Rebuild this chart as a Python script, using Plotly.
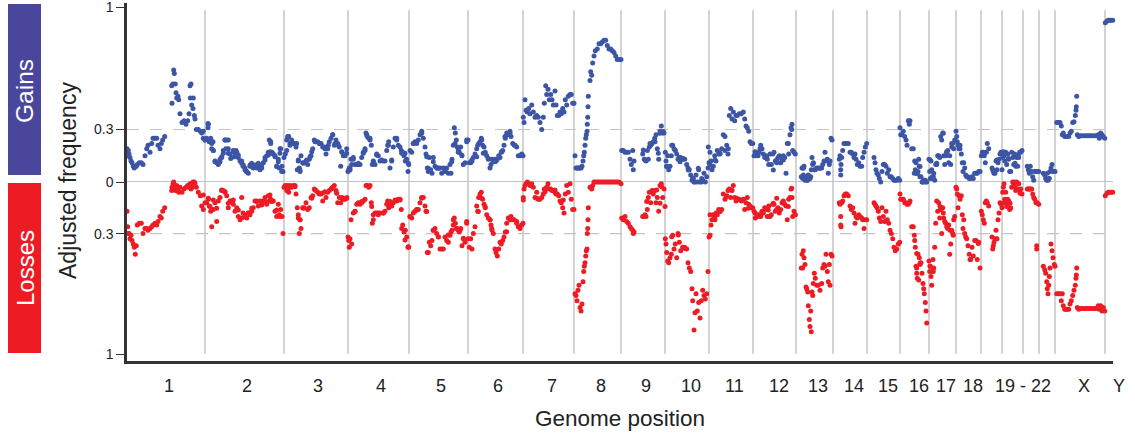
import plotly.graph_objects as go

chr1_pos=[0,.7,1.3,2,3,4,5,6.3,7.3,8.3,9.3,10.3,12.3,14.3,16,18,19.7,21,23,24.7,26,28,29.7,31,33,34.3,35.7,37.7,44.7,45,46,46.7,47.3,48.3,49,49.7,51,51.7,53,55,57,59,60.7,62,63,63.3,64,64.7,66,66.3,67.3,68,69.3,71.3,73.3,74.7,76.3,78]
chr1_gain=[.19,.15,.18,.16,.14,.12,.11,.09,.08,.09,.09,.10,.11,.11,.10,.15,.19,.21,.17,.22,.25,.25,.25,.21,.19,.22,.24,.26,.55,.45,.56,.64,.62,.56,.51,.48,.49,.47,.39,.34,.35,.33,.35,.39,.55,.48,.56,.44,.42,.48,.38,.36,.30,.30,.29,.28,.25,.24]
chr1_loss=[.17,.26,.30,.30,.33,.31,.34,.36,.38,.42,.37,.25,.24,.24,.30,.27,.27,.28,.27,.26,.25,.24,.25,.23,.20,.21,.17,.15,.05,.03,.01,0,.03,.05,.04,.02,.05,.06,.03,.06,.04,.03,.02,.03,.01,.02,.04,.03,0,.01,0,.01,.03,.06,.08,.14,.16,.12]

chr2_pos=[79.7,81.3,82.3,83.7,84.7,86.3,88,89.7,91.3,93,94.7,96.3,98,99.7,101.3,103,104.7,106.3,108,109.7,111.3,113,114.7,116,118,119.7,121.3,123,124.7,126.3,128,129.7,131.3,133,134.7,136.3,138,139.7,141.3,142.3,143.7,145,146.3,148,149.7,151.3,152.3,153.7,155,156]
chr2_gain=[.25,.33,.23,.25,.19,.18,.12,.11,.10,.13,.14,.18,.24,.24,.19,.16,.14,.18,.15,.17,.14,.12,.12,.09,.08,.06,.05,.09,.09,.08,.09,.08,.09,.07,.08,.11,.14,.15,.17,.24,.23,.17,.16,.15,.09,.13,.08,.19,.09,.06]
chr2_loss=[.12,.10,.14,.17,.26,.16,.12,.23,.11,.09,.05,.05,.06,.08,.15,.11,.11,.13,.17,.15,.20,.22,.09,.18,.20,.21,.18,.19,.17,.15,.11,.11,.14,.11,.13,.11,.09,.13,.08,.11,.10,.11,.11,.17,.20,.13,.19,.16,.20,.30]

chr3_pos=[157,158.3,159.7,160.7,161.7,163,164.7,166.3,168,169,170.3,171.3,172.3,173,174,175.7,177.3,179,180.7,182.3,184,185.7,187.3,189,190.7,192.3,194,195.7,197.3,199,200.7,202.3,204,205.7,207.3,209,210.7,212.3,213.7,215,216.3,218,219.7]
chr3_gain=[.14,.16,.18,.26,.26,.22,.22,.22,.22,.20,.07,.12,.08,.06,.15,.11,.11,.12,.10,.13,.15,.19,.24,.23,.23,.22,.22,.20,.20,.16,.19,.23,.25,.27,.21,.24,.22,.20,.09,.17,.15,.15,.19]
chr3_loss=[.03,.02,.05,.02,.06,.02,.03,.02,.02,.07,.15,.21,.30,.22,.27,.15,.15,.12,.16,.15,.09,.08,.04,.05,.06,.07,.07,.11,.06,.09,.06,.05,.04,.03,.02,.05,.12,.09,.12,.09,.10,.10,.09]

chr4_pos=[221,221.7,222.3,223,224,224.7,226.3,228,229.7,231.3,233,234.7,236.3,238,239,240.3,241.7,243,244.3,245.3,246.3,248,249.7,251.3,253,256.3,258,259.7,260.7,261.7,263,264.7,266.3,268,269.7,271.3,273,274.3,275.7,277,278.3,279.7,281,281.7]
chr4_gain=[.06,.07,.08,.08,.13,.10,.14,.10,.10,.10,.10,.14,.17,.19,.28,.26,.25,.25,.21,.10,.12,.10,.16,.15,.12,.12,.12,.18,.21,.23,.08,.12,.20,.25,.25,.21,.20,.18,.17,.15,.12,.13,.06,.10]
chr4_loss=[.32,.34,.38,.33,.22,.36,.18,.17,.13,.12,.13,.12,.11,.10,.02,.02,.03,.02,.12,.24,.19,.18,.18,.18,.18,.18,.17,.13,.11,.15,.13,.14,.12,.11,.11,.10,.10,.16,.25,.29,.28,.32,.38,.38]

chr5_pos=[283,284.7,286.3,288,289.7,291.3,293,294.7,296.3,298,299,300.3,301.3,302.3,303.7,305,306.3,308,309.7,311.3,313,314.7,316.3,318,319.7,321.3,323,324,325,326.3,327.3,328.3,329.3,330.3,331.3,332.3,333.7,335,336.3,338,339.7,341]
chr5_gain=[.18,.17,.22,.23,.22,.24,.27,.29,.25,.20,.16,.08,.06,.14,.07,.05,.14,.09,.08,.08,.08,.05,.08,.06,.08,.05,.10,.05,.13,.21,.31,.28,.24,.20,.17,.17,.20,.15,.10,.11,.24,.24]
chr5_loss=[.20,.21,.18,.17,.16,.16,.12,.09,.09,.14,.17,.41,.41,.35,.37,.34,.28,.27,.30,.32,.39,.39,.39,.32,.34,.35,.31,.29,.28,.25,.21,.24,.27,.27,.28,.29,.27,.37,.33,.35,.23,.33]

chr6_pos=[342.3,343.7,345,346.3,348,349.7,350.7,351.7,353,354.3,355.7,357,358.3,359.7,361.3,363,364,365,366.3,368,369,370.3,371.7,373,374.3,375.7,377,378.3,379.7,381.3,383,384,385.7,387.3,389.7,391.3,393,394.7,396]
chr6_gain=[.11,.11,.12,.14,.16,.19,.21,.22,.23,.25,.21,.20,.17,.15,.13,.08,.10,.13,.12,.13,.12,.13,.15,.14,.17,.18,.21,.25,.28,.27,.29,.26,.22,.21,.20,.15,.15,.16,.15]
chr6_loss=[.38,.33,.39,.30,.26,.14,.17,.09,.07,.06,.10,.13,.15,.19,.21,.22,.25,.28,.30,.39,.41,.43,.39,.35,.36,.34,.32,.29,.24,.21,.22,.20,.22,.22,.23,.26,.27,.25,.24]

chr7_pos=[396.3,397,398,399,400.3,401.7,403,404.7,406.3,408,409.7,411.3,413,414.7,416.3,417.3,418.7,419.7,421,422.3,423.7,425,426.3,428,429,430.3,431.7,433,434.3,435.7,437,438.3,439.7,441.3,443,444.3,445.7,447]
chr7_gain=[.37,.34,.47,.41,.40,.42,.39,.44,.40,.37,.38,.37,.34,.30,.37,.45,.55,.50,.53,.47,.50,.47,.44,.52,.44,.38,.38,.40,.39,.42,.40,.47,.44,.49,.50,.50,.45,.45]
chr7_loss=[.09,.04,.02,.01,0,.01,.02,.01,.03,.09,.06,.10,.10,.09,.07,.04,.04,.03,.01,.04,.04,.05,.05,.06,.07,.07,.08,.11,.12,.15,.18,.07,.02,.06,.01,.10,.16,.16]

chr8_pos=[448,449,450,451,452,453,454,455,456,456.7,457.3,458,458.7,459.3,460,460.3,460.7,461,461.3,463,463.7,464.7,465.7,467,468.3,470.3,472,473.7,475.3,477,478.7,480.3,482,483.7,485.3,487,488.7,490.3,492,494]
chr8_gain=[.15,.08,.08,.08,.08,.08,.08,.09,.12,.15,.17,.21,.25,.27,.29,.33,.37,.43,.49,.58,.63,.61,.68,.72,.75,.76,.79,.79,.80,.81,.81,.78,.76,.76,.75,.74,.72,.70,.70,.70]
chr8_loss=[.65,.66,.69,.63,.60,.73,.75,.71,.58,.52,.49,.47,.43,.40,.39,.30,.27,.22,.15,.03,.03,.04,.02,0,0,0,0,0,0,0,0,0,0,0,0,0,0,0,0,.01]

chr9_pos=[494.7,496.3,498,499.7,501.3,503,504.3,505.7,506.3,507,515.7,517.3,519,520.3,521.3,522.3,523.7,525,526.3,527.7,529,530.3,531.7,533,534.3,535.7,537]
chr9_gain=[.18,.18,.17,.17,.17,.13,.10,.18,.07,.12,.16,.13,.12,.18,.13,.20,.21,.22,.23,.25,.27,.19,.13,.29,.32,.28,.28]
chr9_loss=[.21,.22,.20,.23,.24,.26,.27,.28,.30,.29,.20,.20,.20,.16,.09,.06,.12,.05,.07,.05,.12,.09,.17,.02,.01,.09,.04]

chr10_pos=[538.3,539,539.7,540.7,541.7,543,544.3,545.7,547,548.3,549.7,551,552.3,553.7,555.7,557.7,559.7,561,562.3,563.7,565,565.7,567,568,569,570.3,571.7,573,574.3,575.7,577,578.3,579.7,581]
chr10_gain=[.17,.12,.09,.15,.07,.09,.15,.21,.19,.18,.16,.13,.14,.14,.13,.13,.10,.08,.07,.04,.01,.02,0,0,.04,0,.07,0,0,.01,.05,0,.03,.08]
chr10_loss=[.33,.36,.41,.46,.47,.44,.42,.31,.39,.36,.44,.30,.35,.40,.38,.38,.39,.47,.50,.52,.62,.69,.86,.76,.65,.75,.70,.79,.69,.63,.66,.68,.65,.52]

chr11_pos=[582,583,584,585,586.3,587.7,589,590.3,591.7,593,594.7,596.3,598,599.7,601,602.3,603.7,605,606.3,607.7,609,610.3,612.3,614.3,616.3,617.7,619,620.3,621.7,623,624.3,625.7]
chr11_gain=[.11,.17,.12,.07,.09,.15,.12,.18,.16,.16,.19,.27,.18,.21,.16,.38,.42,.36,.40,.35,.38,.38,.39,.39,.40,.36,.32,.31,.29,.23,.22,.22]
chr11_loss=[.32,.31,.25,.22,.19,.21,.18,.19,.16,.17,.16,.07,.10,.08,.05,.04,.09,.05,.02,.09,.11,.10,.10,.11,.10,.16,.12,.09,.13,.14,.15,.15]

chr12_pos=[627,628.3,629.7,631,632.3,633.7,635,636.3,637.7,639,640.3,641.7,643,644.3,645.7,647,648.3,649.7,651,652.3,653.7,655,656.3,657.7,659,660.3,661.7,663,664,665,665.7,667,668.3]
chr12_gain=[.15,.15,.17,.15,.17,.21,.19,.16,.14,.15,.13,.10,.16,.10,.16,.17,.12,.11,.14,.15,.11,.13,.15,.14,.05,.22,.16,.27,.31,.33,.18,.17,.16]
chr12_loss=[.17,.21,.19,.20,.19,.20,.17,.18,.15,.16,.20,.14,.20,.19,.13,.13,.17,.16,.15,.18,.16,.12,.11,.13,.14,.22,.10,.09,.04,.09,.20,.17,.19]

chr13_pos=[674.3,675,675.7,676.3,677,678,679,679.7,680.7,681.3,682.3,683,683.7,684.3,685,685.7,686.3,687.3,688.3,689.7,691.3,693,694.7,695.7,697,698,699,700.3,701.3,702.3,703,704,705]
chr13_gain=[.03,.08,.02,.04,.09,.01,.03,.01,.01,.04,.02,.02,.03,.07,.14,.10,.11,.07,.07,.08,.08,.08,.08,.10,.12,.17,.12,.13,.05,.10,.12,.25,.24]
chr13_loss=[.50,.42,.50,.40,.44,.48,.61,.62,.64,.72,.80,.84,.75,.87,.64,.66,.59,.53,.56,.60,.60,.63,.59,.50,.48,.49,.42,.52,.58,.48,.60,.42,.43]

chr14_pos=[712.3,713,713.7,713.7,714,714.7,715.7,717,718.3,719.7,721.3,723,724.3,725.7,727,728,729,730.3,731.7,733,734.7,735.7,737,738.3,739.7]
chr14_gain=[.13,.15,.04,.07,.10,.14,.18,.22,.22,.22,.22,.17,.17,.16,.14,.16,.13,.10,.11,.09,.09,.14,.17,.20,.22]
chr14_loss=[.12,.13,.20,.25,.26,.12,.11,.08,.07,.07,.08,.14,.16,.15,.18,.24,.20,.21,.19,.20,.21,.22,.27,.22,.22]

chr15_pos=[747,748,749,750,751.3,752.3,753.7,755,756.3,757.7,759,760.3,761.7,763,764.3,765.7,767,768.3,769.7,771.3,772.7]
chr15_gain=[.14,.11,.07,.05,.04,.02,0,.06,.10,.10,.09,.05,.07,.03,.03,.02,.01,.01,.01,.02,.01]
chr15_loss=[.12,.13,.14,.15,.17,.21,.23,.15,.20,.23,.17,.22,.24,.28,.30,.33,.38,.40,.39,.36,.35]

chr16_pos=[773,773.7,775,776.3,777.7,779,780,781.3,782.3,783,784.7,786.3,787.3,787.7,788.3,789,789.7,790.3,791,791.7,792.3,793,794,795,796,796.7,797.3,798.3,799,799.7]
chr16_gain=[.31,.27,.27,.29,.26,.24,.21,.35,.33,.35,.19,.19,.05,.12,.07,.11,.05,.05,.06,.13,.09,.03,.03,0,0,.01,.01,.01,0,0]
chr16_loss=[.07,.10,.10,.10,.12,.12,.13,.13,.12,.11,.26,.26,.31,.34,.38,.49,.50,.56,.42,.57,.44,.48,.47,.53,.59,.62,.65,.70,.75,.82]

chr17_pos=[802,802.7,803.3,804,804.7,805.3,806,806.7,807.7,808.7,809.7,810.7,811.7,812.7,813.7,814.7,815.7,816.7,817.7,818.7,819.7,820.7,821.7,822.7,823.7,824.7,825.7,826.7,827.7]
chr17_gain=[.13,.06,.02,.12,.07,.03,.02,.05,.01,.10,.10,.15,.15,.14,.26,.24,.28,.15,.10,.15,.17,.18,.11,.15,.10,.20,.22,.19,.24]
chr17_loss=[.46,.52,.49,.55,.60,.52,.45,.50,.38,.24,.11,.17,.12,.21,.16,.30,.15,.21,.23,.24,.26,.27,.25,.42,.36,.28,.30,.22,.20]

chr18_pos=[829,829.7,830.3,831,832,833,834.3,835.3,836,836.7,837.7,838.7,839.7,841,842.3,843.7,845,846.3,847.7,849,850.3,851.7,853]
chr18_gain=[.29,.26,.23,.21,.19,.21,.16,.11,.06,.11,.08,.04,.03,.03,.02,.02,.03,.02,.05,.05,.05,.06,.06]
chr18_loss=[.03,.04,.07,.15,.08,.10,.08,.19,.27,.22,.30,.32,.33,.37,.42,.45,.38,.43,.34,.34,.45,.35,.50]

chr19_pos=[854.3,855.3,856.3,857.3,858.3,859.3,860.3,861.7,865,865.7,866.3,867,868,869,870,871,872,873,874,875]
chr19_gain=[.15,.17,.17,.15,.11,.17,.22,.19,.08,.07,.06,.05,.05,.12,.07,.11,.13,.16,.17,.07]
chr19_loss=[.17,.19,.22,.24,.12,.11,.12,.14,.32,.39,.37,.35,.33,.28,.33,.22,.18,.12,.13,.15]

chr20_pos=[875.7,876.3,877,877.7,878.7,879.7,880.7,881.7,882.7,883.7,884.7,885.7,886.7,887.7,888.7,889.7,890.7,891.7,892.7,893.7,895]
chr20_gain=[.14,.17,.15,.12,.17,.10,.16,.13,.06,.06,.17,.14,.10,.16,.09,.14,.09,.14,.17,.17,.18]
chr20_loss=[.06,.03,.01,.10,.06,.12,.10,.11,.16,.15,.03,0,.01,0,.05,0,.04,.01,.05,.04,.07]

chr21_pos=[900.3,901.3,902.3,903.3,904.7,905.7,906.7,907.7,909,909.7,909.7,910.3,911.7]
chr21_gain=[.09,.07,.05,.09,.06,.03,.01,.06,.06,.06,.06,.06,.06]
chr21_loss=[.04,.04,.04,.04,.04,.07,.09,.10,.12,.37,.39,.12,.13]

chr22_pos=[916.3,917.7,918.7,919.7,920.3,921,921.7,922.3,923,924,925,926,927.3,928]
chr22_gain=[.05,.04,.02,.01,.05,.01,.02,.02,.06,.08,.10,.06,.06,.06]
chr22_loss=[.49,.51,.53,.58,.62,.65,.60,.55,.50,.36,.40,.44,.48,.49]

chrX_pos=[929.7,931.3,933,934.3,935.3,936.3,937.7,939,940.3,941.7,943,944.3,945.7,947,948.3,949,949.3,949.7,950.3,951.7,953,955,957,959,961,963,965,967,969,971.3,972.3,973.7,975,976.3,977.7]
chrX_gain=[.34,.34,.34,.32,.27,.28,.26,.26,.26,.26,.28,.29,.34,.345,.38,.41,.43,.49,.27,.26,.265,.265,.265,.265,.265,.265,.265,.265,.265,.27,.25,.28,.27,.26,.25]
chrX_loss=[.65,.65,.65,.69,.65,.72,.74,.74,.74,.74,.71,.69,.66,.63,.60,.56,.54,.50,.73,.74,.735,.735,.735,.735,.735,.735,.735,.735,.735,.72,.74,.72,.75,.73,.75]

chrY_pos=[978.3,980,981.3,982.7,984,985.7]
chrY_gain=[.91,.92,.925,.925,.925,.925]
chrY_loss=[.08,.065,.06,.06,.06,.06]

# further dots read in the dense stretches
more_gain_pos=[76.3,81,81,78,83,84.7,86,86.3,88,91,93,94.7,96.3,98,101.3,99,101.3,103.7,106.3,108,109,111.3,114.7,116.3,118,119.7,123,124.7,128,131.3,134.7,138,141.3,143,143.7,144.7,148,151.3,149.7,153,153,154.7,
 159.7,161.3,164.7,163,169.7,171.3,173,176.3,179.7,183,184.7,188,193,198,201.3,205.7,208,211.3,214.7,219.7,223,226.3,231.3,236.3,238,239.7,243,246.3,249.7,254.7,261.3,264.7,269.7,274.7,278,281.3,286.3,
 294.7,299.7,301.3,306.3,311.3,318,324.7,328,331.3,334.7,339.7,344.7,349.7,354.7,356.3,361.3,368,374.7,378,383,388,394.7,
 516.3,518,523,528,533,536.3,531.3,539.7,544.7,548,553,556.3,561.3,566.3,571.3,574.7,581.3,583,588,593,598,601.3,
 628,633,639.7,646.3,649.7,656.3,661.3,664.7,676.3,679.7,686.3,693,
 789.7,793,796.3,803,806.3,809.7,816.3,819.7,824.7,833,869.7,876.3,881.3,888,891.3]
more_gain=[.29,.335,.31,.24,.24,.22,.23,.18,.116,.107,.116,.145,.164,.24,.24,.19,.164,.135,.173,.145,.18,.154,.107,.097,.069,.059,.097,.107,.097,.107,.097,.126,.154,.173,.22,.164,.145,.116,.088,.164,.19,.06,
 .24,.26,.24,.21,.22,.126,.069,.107,.126,.145,.173,.23,.22,.19,.21,.27,.22,.21,.173,.164,.069,.13,.107,.164,.18,.27,.24,.116,.154,.126,.21,.126,.24,.164,.164,.107,.22,
 .278,.145,.078,.116,.078,.069,.116,.22,.183,.154,.23,.126,.145,.24,.164,.135,.116,.173,.26,.278,.21,.154,
 .183,.126,.22,.23,.278,.288,.164,.088,.21,.183,.116,.135,.069,.02,.078,.02,.2,.097,.126,.164,.26,.19,
 .173,.19,.145,.069,.126,.126,.22,.30,.078,.02,.107,.078,
 .05,.088,0,.126,.03,.107,.278,.173,.22,.19,.126,.173,.135,.107,.154]
more_loss_pos=[76.3,81.3,83,86.3,89.7,94.7,98,101.3,106.3,111.3,114.7,118,121.3,124.7,129.7,134.7,138,143,144.7,149.7,153,158,161.3,168,171.3,173,176.3,184.7,188,194.7,198,204.7,209.7,214.7,219.7,228,234.7,244.7,246.3,251.3,256.3,263,268,273,274.7,278,281.3,283,289.7,
 294.7,299.7,306.3,311.3,321.3,326.3,333,339.7,336.3,351.3,354.7,358,363,364.7,379.7,383,389.7,396.3,409.7,418,428,436.3,
 518,519.7,524.7,529.7,534.7,533,538,544.7,551.3,558,583,588,593,599.7,604.7,609.7,616.3,621.3,628,634.7,641.3,646.3,649.7,656.3,661.3,664.7,668,
 789.7,793,789.7,803,806.3,813,816.3,823,826.3,843,851.3,876.3,879.7,883,888,893]
more_loss=[.076,.095,.143,.105,.153,.047,.057,.124,.105,.163,.21,.19,.18,.153,.114,.134,.114,.076,.114,.163,.2,.027,.037,.027,.19,.22,.153,.095,.047,.066,.057,.037,.066,.095,.095,.172,.114,.143,.22,.19,.18,.114,.105,.105,.27,.337,.376,.2,.163,
 .095,.172,.28,.318,.308,.22,.28,.24,.327,.172,.095,.143,.22,.27,.289,.21,.24,.105,.095,.057,.047,.105,
 .19,.114,.056,.047,.027,.124,.143,.318,.308,.386,.19,.22,.172,.085,.047,.095,.105,.153,.18,.18,.163,.124,.095,.124,.143,.037,.19,
 .415,.473,.53,.49,.52,.143,.18,.28,.31,.45,.357,.124,.143,.124,.027,.066]

chrom_ends=[78,157,221,282,341,396,447,494,538,582,626,669,706,740,773,802,829,854,875,896,912,928,978]
chrom_labels=["1","2","3","4","5","6","7","8","9","10","11","12","13","14","15","16","17","18","19 - 22","X"]
label_pos=[42,120,191,254,314,371,425,474,519,564,607,652,691,727,761,792,819,846,896,957]
y_ticks=[0.3,1]

pos_all=(chr1_pos,chr2_pos,chr3_pos,chr4_pos,chr5_pos,chr6_pos,chr7_pos,chr8_pos,chr9_pos,chr10_pos,chr11_pos,chr12_pos,chr13_pos,chr14_pos,chr15_pos,chr16_pos,chr17_pos,chr18_pos,chr19_pos,chr20_pos,chr21_pos,chr22_pos,chrX_pos,chrY_pos)
gain_all=(chr1_gain,chr2_gain,chr3_gain,chr4_gain,chr5_gain,chr6_gain,chr7_gain,chr8_gain,chr9_gain,chr10_gain,chr11_gain,chr12_gain,chr13_gain,chr14_gain,chr15_gain,chr16_gain,chr17_gain,chr18_gain,chr19_gain,chr20_gain,chr21_gain,chr22_gain,chrX_gain,chrY_gain)
loss_all=(chr1_loss,chr2_loss,chr3_loss,chr4_loss,chr5_loss,chr6_loss,chr7_loss,chr8_loss,chr9_loss,chr10_loss,chr11_loss,chr12_loss,chr13_loss,chr14_loss,chr15_loss,chr16_loss,chr17_loss,chr18_loss,chr19_loss,chr20_loss,chr21_loss,chr22_loss,chrX_loss,chrY_loss)
xs=[v for a in pos_all for v in a]
gains=[v for a in gain_all for v in a]
losses=[v for a in loss_all for v in a]

BLUE="#3c55a5"; RED="#ed1c24"; GRID="#c4c4c4"; AXIS="#333333"; FONT="Liberation Sans"
fig=go.Figure()
fig.add_trace(go.Scatter(x=xs+more_gain_pos,y=gains+more_gain,mode="markers",xaxis="x",yaxis="y",cliponaxis=False,marker=dict(size=5,color=BLUE),showlegend=False))
fig.add_trace(go.Scatter(x=xs+more_loss_pos,y=losses+more_loss,mode="markers",xaxis="x",yaxis="y2",cliponaxis=False,marker=dict(size=5,color=RED),showlegend=False))

shapes=[]
for e in chrom_ends:
    shapes.append(dict(type="line",xref="x",yref="paper",x0=e,x1=e,y0=0.02,y1=0.98,line=dict(color=GRID,width=1.5),layer="below"))
shapes.append(dict(type="line",xref="x",yref="y",x0=0,x1=986,y0=0,y1=0,line=dict(color=GRID,width=2),layer="below"))
shapes.append(dict(type="line",xref="x",yref="y",x0=0,x1=986,y0=0.3,y1=0.3,line=dict(color=GRID,width=1.2,dash="12px,11px"),layer="below"))
shapes.append(dict(type="line",xref="x",yref="y2",x0=0,x1=986,y0=0.3,y1=0.3,line=dict(color=GRID,width=1.2,dash="12px,11px"),layer="below"))
PW=1135-127-22; PH=438-3-77
def px(x): return (x-127)/PW
def py(y): return (361-y)/PH
shapes.append(dict(type="rect",xref="paper",yref="paper",x0=px(8),x1=px(41),y0=py(175),y1=py(4),fillcolor="#4a469b",line=dict(width=0)))
shapes.append(dict(type="rect",xref="paper",yref="paper",x0=px(8),x1=px(41),y0=py(353),y1=py(183),fillcolor=RED,line=dict(width=0)))

ann=[dict(x=x,y=0,xref="x",yref="paper",yshift=-25,text=t,showarrow=False,font=dict(family=FONT,size=18,color="#222"),yanchor="middle") for t,x in zip(chrom_labels,label_pos)]
ann.append(dict(x=px(1119),y=0,xref="paper",yref="paper",yshift=-25,text="Y",showarrow=False,font=dict(family=FONT,size=18,color="#222"),xanchor="center",yanchor="middle"))
ann.append(dict(x=493,y=0,xref="x",yref="paper",yshift=-57,text="Genome position",showarrow=False,font=dict(family=FONT,size=22.5,color="#222"),yanchor="middle"))
ann.append(dict(x=px(68),y=py(181),xref="paper",yref="paper",text="Adjusted frequency",textangle=-90,showarrow=False,font=dict(family=FONT,size=23,color="#222"),xanchor="center",yanchor="middle"))
ann.append(dict(x=px(25),y=py(91),xref="paper",yref="paper",text="Gains",textangle=-90,showarrow=False,font=dict(family=FONT,size=24.5,color="white"),xanchor="center",yanchor="middle"))
ann.append(dict(x=px(25),y=py(268),xref="paper",yref="paper",text="Losses",textangle=-90,showarrow=False,font=dict(family=FONT,size=24,color="white"),xanchor="center",yanchor="middle"))

yax=dict(showline=True,linecolor=AXIS,linewidth=2.5,ticks="outside",ticklen=8,tickwidth=1.2,tickcolor=AXIS,showgrid=False,zeroline=False,
         ticklabeloverflow="allow",tickfont=dict(family=FONT,size=14,color="#222"),anchor="x")
fig.update_layout(width=1135,height=438,autosize=False,margin=dict(l=127,r=22,t=3,b=77,autoexpand=False),paper_bgcolor="white",plot_bgcolor="white",
    xaxis=dict(domain=[0,1],range=[0,986],anchor="y2",showline=True,linecolor=AXIS,linewidth=2.5,showticklabels=False,ticks="",showgrid=False,zeroline=False),
    yaxis=dict(domain=[0.5,1],range=[0,179/175],tickvals=[0]+y_ticks,ticktext=["0","0.3","1"],**yax),
    yaxis2=dict(domain=[0,0.5],range=[179/172,0],tickvals=y_ticks,ticktext=["0.3","1"],**yax),
    shapes=shapes,annotations=ann)
fig.write_html("out.html",config={"displayModeBar":False},post_script="document.body.style.margin='0';document.documentElement.style.overflow='hidden';")
